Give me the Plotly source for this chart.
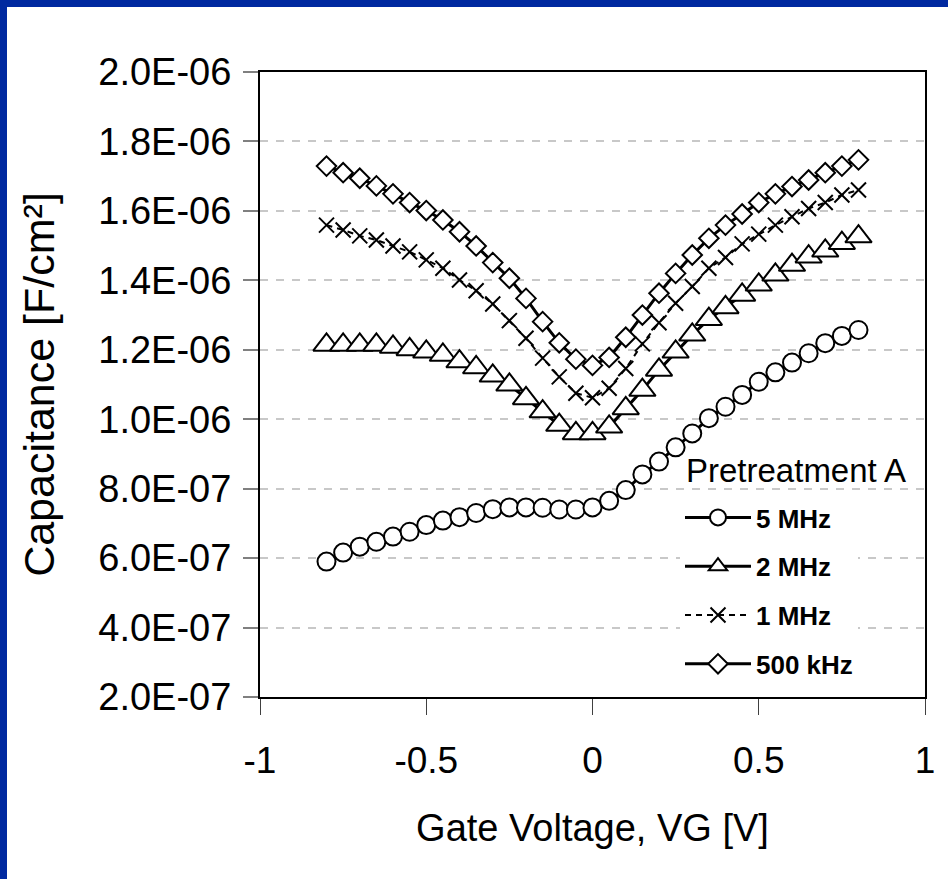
import plotly.graph_objects as go

# ---------------- data ----------------
gate_voltage = [-0.8, -0.75, -0.7, -0.65, -0.6, -0.55, -0.5, -0.45, -0.4, -0.35,
                -0.3, -0.25, -0.2, -0.15, -0.1, -0.05, 0.0, 0.05, 0.1, 0.15,
                0.2, 0.25, 0.3, 0.35, 0.4, 0.45, 0.5, 0.55, 0.6, 0.65,
                0.7, 0.75, 0.8]

cap_5mhz = [5.90e-7, 6.16e-7, 6.33e-7, 6.47e-7, 6.62e-7, 6.76e-7, 6.95e-7, 7.08e-7, 7.18e-7, 7.30e-7,
            7.41e-7, 7.46e-7, 7.46e-7, 7.45e-7, 7.40e-7, 7.40e-7, 7.46e-7, 7.65e-7, 7.96e-7, 8.41e-7,
            8.78e-7, 9.19e-7, 9.59e-7, 1.003e-6, 1.036e-6, 1.070e-6, 1.108e-6, 1.135e-6, 1.163e-6, 1.190e-6,
            1.219e-6, 1.240e-6, 1.257e-6]

cap_2mhz = [1.214e-6, 1.214e-6, 1.214e-6, 1.214e-6, 1.208e-6, 1.201e-6, 1.194e-6, 1.185e-6, 1.166e-6, 1.149e-6,
            1.125e-6, 1.099e-6, 1.060e-6, 1.022e-6, 0.983e-6, 0.959e-6, 0.959e-6, 0.978e-6, 1.031e-6, 1.084e-6,
            1.142e-6, 1.194e-6, 1.243e-6, 1.288e-6, 1.322e-6, 1.358e-6, 1.387e-6, 1.416e-6, 1.444e-6, 1.468e-6,
            1.485e-6, 1.507e-6, 1.526e-6]

cap_1mhz = [1.559e-6, 1.545e-6, 1.528e-6, 1.516e-6, 1.499e-6, 1.482e-6, 1.459e-6, 1.435e-6, 1.401e-6, 1.370e-6,
            1.332e-6, 1.284e-6, 1.233e-6, 1.176e-6, 1.122e-6, 1.075e-6, 1.062e-6, 1.089e-6, 1.146e-6, 1.217e-6,
            1.278e-6, 1.334e-6, 1.382e-6, 1.435e-6, 1.466e-6, 1.505e-6, 1.533e-6, 1.559e-6, 1.583e-6, 1.607e-6,
            1.624e-6, 1.646e-6, 1.660e-6]

cap_500khz = [1.729e-6, 1.710e-6, 1.694e-6, 1.672e-6, 1.649e-6, 1.624e-6, 1.601e-6, 1.574e-6, 1.540e-6, 1.499e-6,
              1.451e-6, 1.406e-6, 1.348e-6, 1.281e-6, 1.220e-6, 1.173e-6, 1.155e-6, 1.178e-6, 1.236e-6, 1.300e-6,
              1.363e-6, 1.420e-6, 1.473e-6, 1.521e-6, 1.559e-6, 1.591e-6, 1.624e-6, 1.649e-6, 1.670e-6, 1.689e-6,
              1.710e-6, 1.729e-6, 1.747e-6]

series_names = ["5 MHz", "2 MHz", "1 MHz", "500 kHz"]

x_tick_vals = [-1, -0.5, 0, 0.5, 1]
x_tick_text = ["-1", "-0.5", "0", "0.5", "1"]
y_tick_vals = [2e-7, 4e-7, 6e-7, 8e-7, 1e-6, 1.2e-6, 1.4e-6, 1.6e-6, 1.8e-6, 2e-6]
y_tick_text = ["2.0E-07", "4.0E-07", "6.0E-07", "8.0E-07", "1.0E-06",
               "1.2E-06", "1.4E-06", "1.6E-06", "1.8E-06", "2.0E-06"]

legend_title = "Pretreatment A"
x_title = "Gate Voltage, VG [V]"
y_title = "Capacitance [F/cm²]"

# ---------------- figure ----------------
W, H = 948, 879
ML, MR, MT, MB = 260, 23, 72, 182
PW, PH = W - ML - MR, H - MT - MB
FONT = "Liberation Sans, Arial, sans-serif"
BLUE = "#0029A0"

fig = go.Figure()

styles = [
    dict(symbol="circle", size=18, dash="solid", lw=3),
    dict(symbol="triangle-up", size=23, dash="solid", lw=3),
    dict(symbol="x-thin", size=15, dash="6px,5px", lw=2),
    dict(symbol="diamond", size=15, dash="solid", lw=3),
]
for name, ys, st in zip(series_names, [cap_5mhz, cap_2mhz, cap_1mhz, cap_500khz], styles):
    fig.add_trace(go.Scatter(
        x=gate_voltage, y=ys, name=name, mode="lines+markers",
        legendgroup=name,
        line=dict(color="black", width=st["lw"], dash=st["dash"]),
        marker=dict(symbol=st["symbol"], size=st["size"], color="white",
                    line=dict(color="black", width=2)),
    ))

def px_x(p):
    return (p - ML) / PW

def px_y(p):
    return (H - MB - p) / PH

# blue frame (top and left bars)
fig.add_shape(type="rect", xref="paper", yref="paper",
              x0=px_x(0), x1=px_x(7), y0=px_y(H), y1=px_y(0),
              fillcolor=BLUE, line=dict(width=0), layer="below")
fig.add_shape(type="rect", xref="paper", yref="paper",
              x0=px_x(0), x1=px_x(W), y0=px_y(7), y1=px_y(0),
              fillcolor=BLUE, line=dict(width=0), layer="below")

fig.add_annotation(text=legend_title, xref="paper", yref="paper",
                   x=px_x(684), y=px_y(470), xanchor="left", yanchor="middle",
                   showarrow=False, font=dict(family=FONT, size=33, color="black"))

fig.update_layout(
    width=W, height=H,
    margin=dict(l=ML, r=MR, t=MT, b=MB, autoexpand=False),
    paper_bgcolor="white", plot_bgcolor="white",
    font=dict(family=FONT, color="black"),
    showlegend=True,
    legend=dict(
        x=px_x(680), y=px_y(494), xanchor="left", yanchor="top",
        bgcolor="white", borderwidth=0, itemwidth=66,
        font=dict(family=FONT, size=26, color="black", weight="bold"),
        traceorder="grouped", tracegroupgap=12,
    ),
    xaxis=dict(
        range=[-1, 1], tickvals=x_tick_vals, ticktext=x_tick_text,
        showgrid=False, zeroline=False,
        showline=True, linecolor="black", linewidth=2, mirror=True,
        ticks="outside", ticklen=16, tickwidth=1, tickcolor="#404040",
        tickfont=dict(family=FONT, size=37, color="black"),
        ticklabelstandoff=14,
        title=dict(text=x_title, font=dict(family=FONT, size=38, color="black"), standoff=34),
    ),
    yaxis=dict(
        range=[2e-7, 2e-6], tickvals=y_tick_vals, ticktext=y_tick_text,
        showgrid=True, gridcolor="#C8C8C8", gridwidth=1.5, griddash="8px,8px",
        zeroline=False,
        showline=True, linecolor="black", linewidth=2, mirror=True,
        ticks="outside", ticklen=15, tickwidth=1.5, tickcolor="#808080",
        tickfont=dict(family=FONT, size=38, color="black"),
        ticklabelstandoff=4,
        title=dict(text=y_title, font=dict(family=FONT, size=43, color="black"), standoff=30),
    ),
)

fig.write_html("out.html", config={"displayModeBar": False},
               post_script="document.body.style.margin='0px';document.body.style.overflow='hidden';")
